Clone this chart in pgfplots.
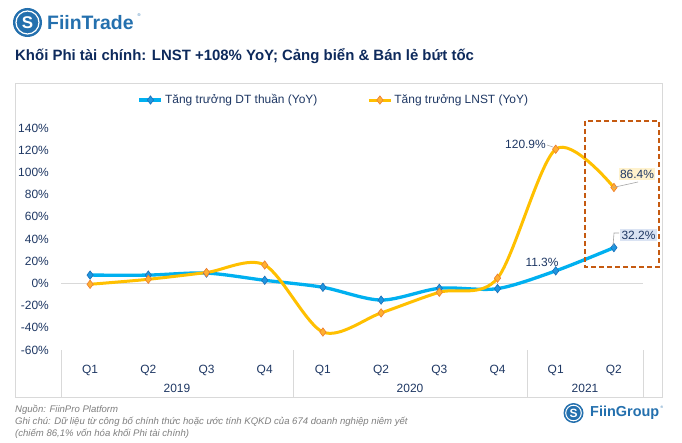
\documentclass[border=0pt]{standalone}
\usepackage{pgfplots}
\pgfplotsset{compat=1.18}
\usepackage{fontspec}
\setmainfont{Liberation Sans}
\definecolor{navy}{HTML}{1F3864}
\definecolor{tnavy}{HTML}{0E2A5C}
\definecolor{dtblue}{HTML}{00B0F0}
\definecolor{dtmark}{HTML}{1E96E0}
\definecolor{dtedge}{HTML}{1B6FB8}
\definecolor{lngold}{HTML}{FFC000}
\definecolor{lnmark}{HTML}{FFB030}
\definecolor{lnedge}{HTML}{ED7D31}
\definecolor{boxor}{HTML}{C55A11}
\definecolor{fiin}{HTML}{2470AE}
\definecolor{framegray}{HTML}{D9D9D9}
\definecolor{notegray}{HTML}{7F7F7F}
\definecolor{cream}{HTML}{FFF2CC}
\definecolor{lblue}{HTML}{DAE3F3}
\begin{document}
\begin{tikzpicture}[x=1bp,y=1bp]
\useasboundingbox (0,0) rectangle (682,-443);
\fill[white] (0,0) rectangle (682,-443);
% FiinTrade logo
\fill[fiin] (27.5,-22.5) circle (14.5);
\draw[white, line width=1.2bp] (27.5,-22.5) circle (11.5);
\node[white, font=\bfseries\fontsize{17}{17}\selectfont] at (27.5,-22.5) {S};
\node[anchor=west, fiin, font=\bfseries\fontsize{19.5}{20}\selectfont, inner sep=0] at (47,-23) {FiinTrade};
\node[fiin, font=\fontsize{4}{4}\selectfont, inner sep=0] at (139,-15) {®};
% title
\node[anchor=base west, tnavy, font=\bfseries\fontsize{15}{17}\selectfont, inner sep=0] at (15,-61) {Khối Phi tài chính: LNST +108\% YoY; Cảng biển \& Bán lẻ bứt tốc};
% outer frame
\draw[framegray, line width=0.8bp] (15,-83) rectangle (662,-397);
\begin{axis}[
  at={(61bp,-350bp)}, anchor=south west,
  scale only axis, width=582bp, height=222bp,
  xmin=-0.5, xmax=9.5, ymin=-60, ymax=140,
  clip=false,
  axis line style={draw=none},
  major tick length=0pt,
  xtick={0,...,9},
  xticklabels={Q1,Q2,Q3,Q4,Q1,Q2,Q3,Q4,Q1,Q2},
  ytick={-60,-40,...,140},
  yticklabel={\pgfmathprintnumber{\tick}\%},
  /pgf/number format/assume math mode=true,
  ticklabel style={font=\fontsize{12}{14}\selectfont, text=navy, inner sep=0pt},
  xticklabel style={anchor=center, yshift=-20bp},
  yticklabel style={anchor=east, xshift=-12bp},
  legend style={at={(0.469,1.126)}, anchor=center, draw=none, fill=none,
    legend columns=2, font=\fontsize{12}{14}\selectfont, text=navy,
    /tikz/every even column/.append style={column sep=48bp}},
  legend cell align=left,
  legend image code/.code={\draw[mark repeat=2,mark phase=2,#1] plot coordinates {(0bp,0bp) (11bp,0bp) (22bp,0bp)};},
]
\draw[framegray, line width=0.8bp] (axis cs:-0.5,0) -- (axis cs:9.5,0);
\addplot[dtblue, line width=3.3bp, smooth, tension=0.5, mark=diamond*, mark size=4.2bp,
  mark options={fill=dtmark, draw=dtedge, line width=0.6bp}]
  coordinates {(0,7.5)(1,7.5)(2,9.3)(3,2.8)(4,-3.5)(5,-15)(6,-4.4)(7,-4.7)(8,11.3)(9,32.2)};
\addlegendentry{Tăng trưởng DT thuần (YoY)}
\addplot[lngold, line width=3bp, smooth, tension=0.5, mark=diamond*, mark size=4.2bp,
  mark options={fill=lnmark, draw=lnedge, line width=0.6bp}]
  coordinates {(0,-0.8)(1,3.7)(2,9.8)(3,16.6)(4,-43.8)(5,-26.6)(6,-8)(7,4.7)(8,120.9)(9,86.4)};
\addlegendentry{Tăng trưởng LNST (YoY)}
\end{axis}
% category separators
\foreach \xx in {61,293,527,643} \draw[framegray, line width=0.8bp] (\xx,-350) -- (\xx,-397);
\node[navy, font=\fontsize{12}{14}\selectfont] at (177,-388) {2019};
\node[navy, font=\fontsize{12}{14}\selectfont] at (410,-388) {2020};
\node[navy, font=\fontsize{12}{14}\selectfont] at (585,-388) {2021};
% data labels
\node[navy, font=\fontsize{12}{14}\selectfont] at (525.5,-144) {120.9\%};
\draw[gray!70, line width=0.6bp] (547,-145) -- (553,-147);
\node[navy, font=\fontsize{12}{14}\selectfont] at (542,-262) {11.3\%};
\draw[gray!70, line width=0.6bp] (613,-187.5) -- (638,-182);
\node[navy, fill=cream, inner sep=1.5bp, font=\fontsize{12}{14}\selectfont] at (637,-174) {86.4\%};
\draw[gray!70, line width=0.6bp] (613,-246) -- (614,-233) -- (619,-233);
\node[navy, fill=lblue, inner sep=1.5bp, font=\fontsize{12}{14}\selectfont] at (638.5,-235) {32.2\%};
% dashed highlight
\draw[boxor, line width=1.8bp, dash pattern=on 5bp off 3bp] (585,-121) rectangle (659,-267);
% notes
\node[anchor=base west, notegray, font=\itshape\fontsize{9.6}{10}\selectfont, inner sep=0] at (15,-412) {Nguồn: FiinPro Platform};
\node[anchor=base west, notegray, font=\itshape\fontsize{9.6}{10}\selectfont, inner sep=0] at (15,-424) {Ghi chú: Dữ liệu từ công bố chính thức hoặc ước tính KQKD của 674 doanh nghiệp niêm yết};
\node[anchor=base west, notegray, font=\itshape\fontsize{9.6}{10}\selectfont, inner sep=0] at (15,-436) {(chiếm 86,1\% vốn hóa khối Phi tài chính)};
% FiinGroup logo
\fill[fiin] (573.5,-413) circle (10);
\draw[white, line width=1bp] (573.5,-413) circle (7.8);
\node[white, font=\bfseries\fontsize{12}{12}\selectfont] at (573.5,-413) {S};
\node[anchor=west, fiin, font=\bfseries\fontsize{14.5}{15}\selectfont, inner sep=0] at (590,-413) {FiinGroup};
\node[fiin, font=\fontsize{3.5}{4}\selectfont, inner sep=0] at (662,-407) {®};
\end{tikzpicture}
\end{document}
